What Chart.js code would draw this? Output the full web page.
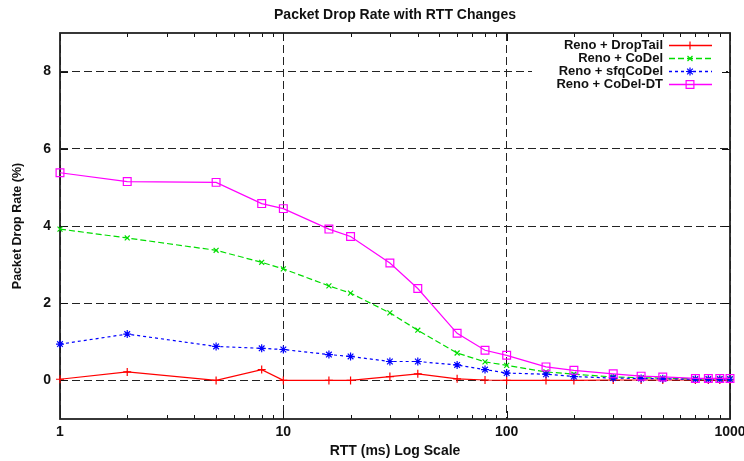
<!DOCTYPE html>
<html>
<head>
<meta charset="utf-8">
<title>Packet Drop Rate with RTT Changes</title>
<script src="https://cdn.jsdelivr.net/npm/chart.js@4.4.0/dist/chart.umd.min.js"></script>
<style>
  html, body { margin: 0; padding: 0; background: #fff; }
  #wrap { width: 744px; height: 461px; }
</style>
</head>
<body>
<div id="wrap"><canvas id="dropChart"></canvas></div>
<script>
// RTT (ms), eje X logaritmico
var rtt = [1, 2, 5, 8, 10, 16, 20, 30, 40, 60, 80, 100, 150, 200, 300, 400, 500, 700, 800, 900, 1000];

// Packet drop rate (%) por esquema
var dropTail = [0.03, 0.22, 0.00, 0.28, 0.00, 0.00, 0.00, 0.10, 0.17, 0.04, 0.01, 0.00, 0.00, 0.00, 0.01, 0.01, 0.01, 0.01, 0.01, 0.01, 0.01];
var coDel    = [3.92, 3.69, 3.37, 3.06, 2.89, 2.45, 2.26, 1.75, 1.30, 0.71, 0.48, 0.39, 0.22, 0.16, 0.09, 0.07, 0.06, 0.04, 0.04, 0.04, 0.04];
var sfqCoDel = [0.94, 1.20, 0.88, 0.83, 0.80, 0.67, 0.62, 0.49, 0.49, 0.40, 0.28, 0.19, 0.16, 0.10, 0.06, 0.05, 0.04, 0.03, 0.03, 0.03, 0.03];
var coDelDT  = [5.38, 5.15, 5.13, 4.58, 4.45, 3.92, 3.73, 3.04, 2.38, 1.22, 0.78, 0.65, 0.35, 0.26, 0.17, 0.11, 0.09, 0.05, 0.05, 0.05, 0.05];

var seriesNames = ['Reno + DropTail', 'Reno + CoDel', 'Reno + sfqCoDel', 'Reno + CoDel-DT'];
var chartTitle = 'Packet Drop Rate with RTT Changes';
var xTicks = [1, 10, 100, 1000];
var yTicks = [0, 2, 4, 6, 8];

var FONT = "'Liberation Sans', Arial, Helvetica, sans-serif";
Chart.defaults.font.family = FONT;
Chart.defaults.font.weight = 'bold';
Chart.defaults.color = '#111';

function puntos(valores) {
  return rtt.map(function (r, i) { return { x: r, y: valores[i] }; });
}

function serie(nombre, valores, color, dash, estilo, radio, orden) {
  return {
    label: nombre,
    data: puntos(valores),
    borderColor: color,
    backgroundColor: 'rgba(0,0,0,0)',
    borderWidth: 1.2,
    borderDash: dash,
    pointStyle: estilo,
    pointRadius: radio,
    pointHoverRadius: radio,
    pointBorderColor: color,
    pointBackgroundColor: estilo === 'star' ? color : 'rgba(0,0,0,0)',
    pointBorderWidth: 1.2,
    tension: 0,
    fill: false,
    clip: false,
    order: orden
  };
}

// titulo, marco, marcas del eje y leyenda estilo gnuplot
var gnuplotMarco = {
  id: 'gnuplotMarco',
  beforeDatasetsDraw: function (chart) {
    var ctx = chart.ctx;
    var a = chart.chartArea;
    var sx = chart.scales.x;
    var sy = chart.scales.y;
    ctx.save();

    // titulo centrado sobre el area del grafico
    ctx.fillStyle = '#111';
    ctx.font = 'bold 14px ' + FONT;
    ctx.textAlign = 'center';
    ctx.textBaseline = 'middle';
    ctx.fillText(chartTitle, (a.left + a.right) / 2, 15);

    // fondo blanco de la leyenda (tapa la rejilla)
    ctx.fillStyle = '#fff';
    ctx.fillRect(532, 37, 194, 54);

    ctx.strokeStyle = '#111';
    ctx.lineWidth = 1;
    ctx.setLineDash([]);
    ctx.beginPath();
    [1, 10, 100].forEach(function (dec) {
      for (var m = 2; m <= 9; m++) {
        var px = Math.round(sx.getPixelForValue(dec * m)) + 0.5;
        ctx.moveTo(px, a.bottom); ctx.lineTo(px, a.bottom - 4);
        ctx.moveTo(px, a.top); ctx.lineTo(px, a.top + 4);
      }
    });
    xTicks.forEach(function (v) {
      var px = Math.round(sx.getPixelForValue(v)) + 0.5;
      ctx.moveTo(px, a.bottom); ctx.lineTo(px, a.bottom - 8);
      ctx.moveTo(px, a.top); ctx.lineTo(px, a.top + 8);
    });
    yTicks.forEach(function (v) {
      var py = Math.round(sy.getPixelForValue(v)) + 0.5;
      ctx.moveTo(a.left, py); ctx.lineTo(a.left + 8, py);
      ctx.moveTo(a.right, py); ctx.lineTo(a.right - 8, py);
    });
    ctx.stroke();

    ctx.lineWidth = 1.8;
    ctx.strokeStyle = '#222';
    ctx.strokeRect(a.left, a.top, a.right - a.left, a.bottom - a.top);

    // leyenda: texto alineado a la derecha, muestra de linea a la derecha
    ctx.font = 'bold 13px ' + FONT;
    ctx.textAlign = 'right';
    ctx.textBaseline = 'middle';
    chart.data.datasets.forEach(function (ds, i) {
      var y = 45.5 + i * 13;
      ctx.fillStyle = '#111';
      ctx.fillText(ds.label, 663, y);
      ctx.save();
      ctx.strokeStyle = ds.borderColor;
      ctx.lineWidth = 1.5;
      ctx.setLineDash(ds.borderDash);
      ctx.beginPath();
      ctx.moveTo(669, y); ctx.lineTo(712, y);
      ctx.stroke();
      ctx.restore();
      ctx.save();
      ctx.strokeStyle = ds.pointBorderColor;
      ctx.fillStyle = ds.pointBackgroundColor;
      ctx.lineWidth = ds.pointBorderWidth;
      Chart.helpers.drawPoint(ctx, { pointStyle: ds.pointStyle, radius: ds.pointRadius, rotation: 0, borderWidth: ds.pointBorderWidth }, 690, y);
      ctx.restore();
    });
    ctx.restore();
  }
};

var ctx = document.getElementById('dropChart').getContext('2d');
var dropChart = new Chart(ctx, {
  type: 'line',
  data: {
    datasets: [
      serie(seriesNames[0], dropTail, '#ff0000', [], 'cross', 4, 3),
      serie(seriesNames[1], coDel, '#00dd00', [6, 3], 'crossRot', 3.5, 2),
      serie(seriesNames[2], sfqCoDel, '#0000ff', [3, 3], 'star', 4, 1),
      serie(seriesNames[3], coDelDT, '#ff00ff', [], 'rect', 5.5, 0)
    ]
  },
  options: {
    responsive: true,
    maintainAspectRatio: false,
    animation: false,
    layout: { padding: { left: 0, right: 14, top: 33, bottom: 0 } },
    plugins: {
      legend: { display: false },
      tooltip: { enabled: false },
      title: { display: false }
    },
    scales: {
      x: {
        type: 'logarithmic',
        min: 1,
        max: 1000,
        afterBuildTicks: function (scale) {
          scale.ticks = xTicks.map(function (v) { return { value: v }; });
        },
        afterFit: function (scale) {
          scale.height = 42;
          scale.paddingLeft = 0;
          scale.paddingRight = 0;
        },
        ticks: {
          autoSkip: false,
          maxRotation: 0,
          padding: 5,
          font: { size: 14, weight: 'bold' },
          callback: function (v) { return String(v); }
        },
        grid: { color: '#222', lineWidth: 1, drawTicks: false },
        border: { display: false, dash: [8, 4] },
        title: {
          display: true,
          text: 'RTT (ms) Log Scale',
          font: { size: 14, weight: 'bold' },
          padding: { top: 0, bottom: 1 }
        }
      },
      y: {
        type: 'linear',
        min: -1,
        max: 9,
        afterBuildTicks: function (scale) {
          scale.ticks = yTicks.map(function (v) { return { value: v }; });
        },
        afterFit: function (scale) {
          scale.width = 60;
        },
        ticks: {
          padding: 9,
          font: { size: 14, weight: 'bold' }
        },
        grid: { color: '#222', lineWidth: 1, drawTicks: false },
        border: { display: false, dash: [8, 4] },
        title: {
          display: true,
          text: 'Packet Drop Rate (%)',
          font: { size: 12.5, weight: 'bold' },
          padding: { top: 10, bottom: 0 }
        }
      }
    }
  },
  plugins: [gnuplotMarco]
});
</script>
</body>
</html>
